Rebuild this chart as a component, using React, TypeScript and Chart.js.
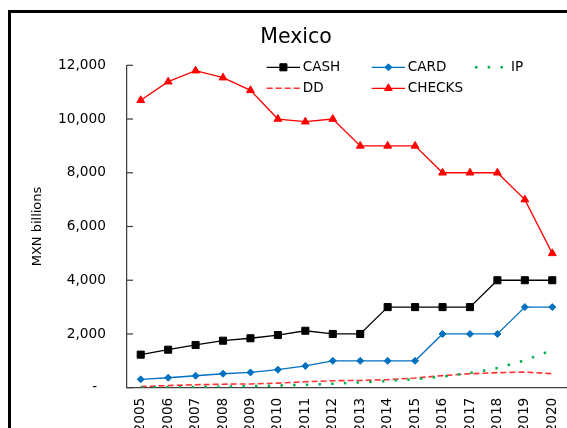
import React, { useEffect, useRef } from "react";
import { Chart, registerables } from "chart.js";
import { drawPoint } from "chart.js/helpers";

Chart.register(...registerables);

// ---- data ----
const years = ["2005", "2006", "2007", "2008", "2009", "2010", "2011", "2012", "2013", "2014", "2015", "2016", "2017", "2018", "2019", "2020"];
const cash = [1230, 1415, 1590, 1750, 1840, 1960, 2120, 2000, 2000, 3000, 3000, 3000, 3000, 4000, 4000, 4000];
const card = [310, 370, 445, 520, 570, 670, 810, 1000, 1000, 1000, 1000, 2000, 2000, 2000, 3000, 3000];
const ip = [10, 15, 25, 40, 55, 80, 110, 150, 200, 250, 320, 410, 550, 730, 1020, 1400];
const dd = [40, 80, 110, 130, 140, 170, 220, 260, 270, 300, 360, 450, 520, 560, 580, 520];
const checks = [10700, 11390, 11800, 11540, 11070, 10000, 9900, 10000, 9000, 9000, 9000, 8000, 8000, 8000, 7000, 5000];
const yTicks = [0, 2000, 4000, 6000, 8000, 10000, 12000];
const chartTitle = "Mexico";
const yAxisTitle = "MXN billions";

const FONT = "'DejaVu Sans', sans-serif";
const AXIS = "#404040";
const CANVAS_W = 600;
const CANVAS_H = 460;

// legend slots: dataset index, line start x, row y (canvas px)
const legendSlots = [
  { ds: 0, x: 255.7, y: 54.3 },
  { ds: 1, x: 360.7, y: 54.3 },
  { ds: 2, x: 464, y: 54.3 },
  { ds: 3, x: 255.7, y: 75.3 },
  { ds: 4, x: 360.7, y: 75.3 },
];

const decorPlugin = {
  id: "decor",
  afterDraw(chart: any) {
    const ctx = chart.ctx as CanvasRenderingContext2D;
    const { left } = chart.chartArea;
    const ys = chart.scales.y;
    ctx.save();
    // inside tick marks on the value axis
    ctx.strokeStyle = AXIS;
    ctx.lineWidth = 1.25;
    ys.ticks.forEach((t: any) => {
      const py = ys.getPixelForValue(t.value);
      ctx.beginPath();
      ctx.moveTo(left, py);
      ctx.lineTo(left + 6, py);
      ctx.stroke();
    });
    // title
    ctx.fillStyle = "#000";
    ctx.font = `20.5px ${FONT}`;
    ctx.textAlign = "center";
    ctx.textBaseline = "alphabetic";
    ctx.fillText(chartTitle, 285, 29.5);
    // legend
    ctx.font = `13.6px ${FONT}`;
    ctx.textAlign = "left";
    ctx.textBaseline = "middle";
    legendSlots.forEach((slot) => {
      const ds = chart.data.datasets[slot.ds];
      ctx.save();
      ctx.strokeStyle = ds.borderColor;
      ctx.lineWidth = ds.borderWidth;
      ctx.setLineDash(ds.borderDash || []);
      ctx.beginPath();
      ctx.moveTo(slot.x, slot.y);
      ctx.lineTo(slot.x + 33.3, slot.y);
      ctx.stroke();
      ctx.setLineDash([]);
      if (ds.pointRadius > 0) {
        ctx.fillStyle = ds.pointBackgroundColor;
        ctx.strokeStyle = ds.pointBorderColor;
        ctx.lineWidth = 1;
        drawPoint(ctx, { pointStyle: ds.pointStyle, radius: ds.pointRadius, borderWidth: 1, rotation: 0 } as any, slot.x + 16.7, slot.y);
      }
      ctx.restore();
      ctx.fillStyle = "#000";
      ctx.fillText(ds.label, slot.x + 36, slot.y);
    });
    ctx.restore();
  },
};

export default function App() {
  const ref = useRef<HTMLCanvasElement | null>(null);

  useEffect(() => {
    if (!ref.current) return;
    const chart = new Chart(ref.current, {
      type: "line",
      data: {
        labels: years,
        datasets: [
          {
            label: "CASH",
            data: cash,
            borderColor: "#000000",
            backgroundColor: "#000000",
            borderWidth: 1.3,
            pointStyle: "rect",
            pointRadius: 5,
            pointBackgroundColor: "#000000",
            pointBorderColor: "#000000",
            pointBorderWidth: 1,
            tension: 0,
          },
          {
            label: "CARD",
            data: card,
            borderColor: "#0070C0",
            backgroundColor: "#0070C0",
            borderWidth: 1.3,
            pointStyle: "rectRot",
            pointRadius: 3.5,
            pointBackgroundColor: "#0070C0",
            pointBorderColor: "#0070C0",
            pointBorderWidth: 1,
            tension: 0,
          },
          {
            label: "IP",
            data: ip,
            borderColor: "#00B050",
            backgroundColor: "#00B050",
            borderWidth: 2.5,
            borderDash: [2.5, 10.2],
            pointRadius: 0,
            tension: 0,
          },
          {
            label: "DD",
            data: dd,
            borderColor: "#FF3333",
            backgroundColor: "#FF3333",
            borderWidth: 1.6,
            borderDash: [6, 3],
            pointRadius: 0,
            tension: 0,
          },
          {
            label: "CHECKS",
            data: checks,
            borderColor: "#FF0000",
            backgroundColor: "#FF0000",
            borderWidth: 1.3,
            pointStyle: "triangle",
            pointRadius: 4.5,
            pointBackgroundColor: "#FF0000",
            pointBorderColor: "#FF0000",
            pointBorderWidth: 1,
            tension: 0,
          },
        ],
      },
      options: {
        responsive: false,
        maintainAspectRatio: false,
        animation: false,
        events: [],
        layout: { padding: { top: 52.3, right: CANVAS_W - 555, left: 0, bottom: 0 } },
        plugins: {
          legend: { display: false },
          title: { display: false },
          tooltip: { enabled: false },
        },
        scales: {
          x: {
            type: "category",
            offset: true,
            grid: { display: false, drawTicks: false },
            border: { display: true, color: AXIS, width: 1.25 },
            ticks: {
              color: "#000",
              font: { family: FONT, size: 13.7 },
              minRotation: 90,
              maxRotation: 90,
              padding: 10,
              autoSkip: false,
            },
            afterFit: (s: any) => {
              s.height = CANVAS_H - 374.7;
            },
          },
          y: {
            min: 0,
            max: 12000,
            grid: { display: false, drawTicks: false },
            border: { display: true, color: AXIS, width: 1.25 },
            afterBuildTicks: (s: any) => {
              s.ticks = yTicks.map((v) => ({ value: v }));
            },
            ticks: {
              color: "#000",
              font: { family: FONT, size: 13.7 },
              padding: 21,
              callback: (v: any) => (Number(v) === 0 ? "-  " : Number(v).toLocaleString("en-US")),
            },
            title: {
              display: true,
              text: yAxisTitle,
              color: "#000",
              font: { family: FONT, size: 13 },
              padding: { top: 19, bottom: 0 },
            },
            afterFit: (s: any) => {
              s.width = 116;
            },
          },
        },
      },
      plugins: [decorPlugin],
    } as any);
    return () => chart.destroy();
  }, []);

  return (
    <div style={{ position: "fixed", left: 0, top: 0, width: 567, height: 428, overflow: "hidden", background: "#fff" }}>
      <div
        style={{
          position: "absolute",
          left: 8,
          top: 10,
          width: 640,
          height: 500,
          border: "3px solid #000",
          overflow: "hidden",
          background: "#fff",
        }}
      >
        <canvas
          ref={ref}
          width={CANVAS_W}
          height={CANVAS_H}
          style={{ position: "absolute", left: 0, top: 0, width: CANVAS_W, height: CANVAS_H }}
        />
      </div>
    </div>
  );
}
